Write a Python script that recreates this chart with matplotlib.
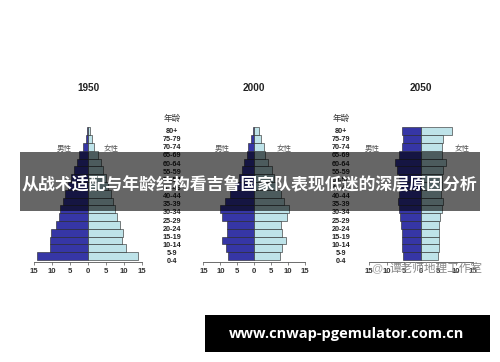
import matplotlib.pyplot as plt
from matplotlib.patches import Rectangle
import numpy as np

plt.rcParams['font.family'] = ['Liberation Sans', 'Noto Sans CJK SC', 'DejaVu Sans']

ages = ['0-4', '5-9', '10-14', '15-19', '20-24', '25-29', '30-34', '35-39', '40-44',
        '45-49', '50-54', '55-59', '60-64', '65-69', '70-74', '75-79', '80+']

male_1950 = [14.2, 10.7, 10.5, 10.3, 8.9, 8.2, 7.7, 7.1, 6.3, 5.6, 4.8, 4.0, 3.2, 2.4, 1.4, 0.6, 0.3]
female_1950 = [13.8, 10.5, 9.6, 9.7, 8.8, 8.1, 7.6, 7.0, 6.4, 5.7, 5.0, 4.3, 3.5, 2.7, 1.7, 1.0, 0.6]

male_2000 = [7.9, 8.4, 9.4, 8.2, 8.2, 9.4, 10.1, 8.7, 7.2, 5.6, 4.4, 3.7, 2.9, 2.3, 1.8, 1.0, 0.5]
female_2000 = [7.6, 8.2, 9.3, 8.2, 8.0, 9.5, 10.3, 8.8, 7.8, 6.6, 5.8, 5.2, 4.1, 3.2, 2.9, 1.9, 1.3]

male_2050 = [5.3, 5.4, 5.6, 5.6, 5.9, 6.1, 6.3, 6.8, 6.3, 6.1, 6.3, 6.9, 7.5, 6.3, 5.6, 5.3, 5.4]
female_2050 = [5.0, 5.1, 5.3, 5.3, 5.3, 5.5, 6.0, 6.3, 5.8, 6.0, 6.0, 6.5, 7.2, 6.0, 6.0, 6.5, 8.9]

years = ['1950', '2000', '2050']
male_color = '#3636a6'
female_color = '#bee3e9'

W, H = 500, 362
fig = plt.figure(figsize=(5, 3.62), dpi=100)

# pixel layout of each pyramid: centre x, px per unit, x of 男性/女性 labels
panels = [
    (88, 3.59, male_1950, female_1950, -6.5, 6.3),
    (254.3, 3.39, male_2000, female_2000, -9.5, 8.8),
    (421, 3.45, male_2050, female_2050, -14, 11.9),
]

y_bottom, y0, step = 262, 256, 7.8
ylo = (y0 - y_bottom) / step
yhi = 16.6
y = np.arange(len(ages))
for (cx, ppu, male, female, mx, fx), year in zip(panels, years):
    half = 16
    left = (cx - half * ppu) / W
    width = 2 * half * ppu / W
    bottom = (H - y_bottom) / H
    height = (yhi - ylo) * step / H
    ax = fig.add_axes([left, bottom, width, height])
    ax.barh(y, [-v for v in male], height=1, color=male_color, edgecolor='#222222', linewidth=0.4)
    ax.barh(y, female, height=1, color=female_color, edgecolor='#222222', linewidth=0.4)
    ax.set_xlim(-half, half)
    ax.set_ylim(ylo, yhi)
    for s in ['top', 'left', 'right']:
        ax.spines[s].set_visible(False)
    ax.spines['bottom'].set_bounds(-15, 15)
    ax.spines['bottom'].set_color('#555555')
    ax.spines['bottom'].set_linewidth(0.6)
    ax.set_yticks([])
    ticks = [-15, -10, -5, 0, 5, 10, 15]
    ax.set_xticks(ticks)
    ax.set_xticklabels([str(abs(t)) for t in ticks], fontsize=5.6, fontweight='bold', color='#333333')
    ax.tick_params(axis='x', length=2, width=0.5, color='#555555', pad=2)
    ax.text(mx, 13.7, '男性', fontsize=5.4, color='#555555', ha='center', va='center',
            family=['Noto Sans CJK SC'])
    ax.text(fx, 13.7, '女性', fontsize=5.4, color='#555555', ha='center', va='center',
            family=['Noto Sans CJK SC'])
    fig.text(cx / W, 1 - 88 / H, year, fontsize=7.2, fontweight='bold', color='#222222',
             ha='center', va='center')

# age labels between panels
for lx in [172, 341]:
    for i, a in enumerate(ages):
        py = 261.7 - 8.14 * i
        fig.text(lx / W, 1 - py / H, a, fontsize=5.2, fontweight='bold',
                 color='#222222', ha='center', va='center')
    fig.text(lx / W, 1 - 118 / H, '年龄', fontsize=6.2, color='#333333', ha='center',
             va='center', family=['Noto Sans CJK SC'])

# watermark
fig.text(436 / W, 1 - 268 / H, '谭老师地理工作室', fontsize=8.4, color='#8a8a8a',
         ha='center', va='center', family=['Noto Sans CJK SC'])
fig.text(377 / W, 1 - 268 / H, '@', fontsize=8, color='#aaaaaa', ha='center', va='center')

# dark translucent title banner
fig.add_artist(Rectangle((20 / W, 1 - 211 / H), 460 / W, 59 / H, transform=fig.transFigure,
                         facecolor='black', alpha=0.6, edgecolor='none', zorder=5))
fig.text(249 / W, 1 - 184 / H, '从战术适配与年龄结构看吉鲁国家队表现低迷的深层原因分析',
         fontsize=12.2, fontweight='bold', color='white', ha='center', va='center',
         family=['Noto Sans CJK SC'], zorder=6)

# url box
fig.add_artist(Rectangle((205 / W, 1 - 352 / H), 285 / W, 37 / H, transform=fig.transFigure,
                         facecolor='black', edgecolor='none', zorder=5))
fig.text(347 / W, 1 - 334 / H, 'www.cnwap-pgemulator.com.cn', fontsize=10.5, fontweight='bold',
         color='white', ha='center', va='center', family=['Open Sans', 'DejaVu Sans'], zorder=6)

fig.savefig('out.png', dpi=100)
